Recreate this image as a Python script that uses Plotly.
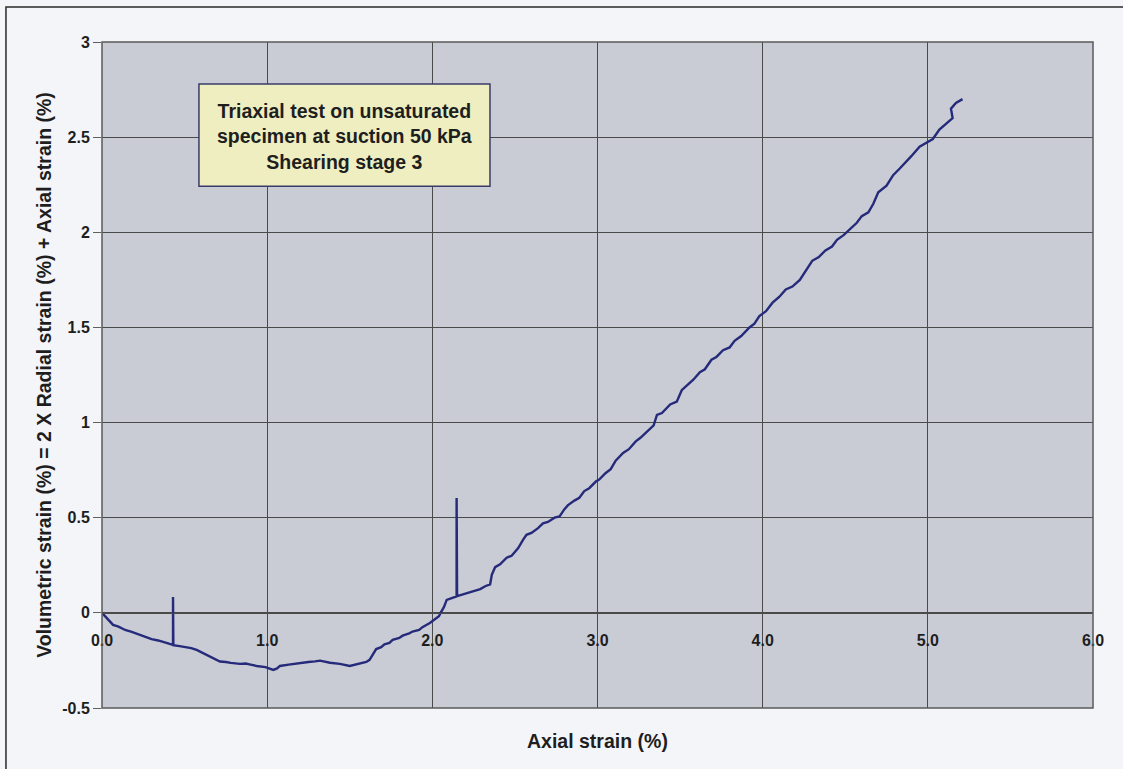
import plotly.graph_objects as go

# Axial strain (%) readings
axial = [
    0.000, 0.030, 0.067, 0.100, 0.140, 0.180, 0.230, 0.270, 0.300, 0.340, 0.370,
    0.400, 0.430, 0.430, 0.432, 0.470, 0.500, 0.540, 0.573, 0.610, 0.640, 0.680,
    0.714, 0.750, 0.780, 0.835, 0.870, 0.900, 0.936, 0.990, 1.037, 1.060, 1.077,
    1.130, 1.178, 1.220, 1.250, 1.290, 1.320, 1.380, 1.440, 1.500, 1.560, 1.600,
    1.620, 1.640, 1.660, 1.690, 1.710, 1.740, 1.760, 1.800, 1.820, 1.860, 1.880,
    1.920, 1.940, 1.985, 2.020, 2.040, 2.050, 2.070, 2.087, 2.120, 2.147, 2.147,
    2.150, 2.190, 2.220, 2.250, 2.290, 2.320, 2.350, 2.360, 2.380, 2.410, 2.450,
    2.480, 2.520, 2.550, 2.570, 2.600, 2.640, 2.670, 2.700, 2.740, 2.770, 2.800,
    2.820, 2.860, 2.890, 2.920, 2.950, 2.990, 3.010, 3.050, 3.080, 3.110, 3.155,
    3.190, 3.230, 3.260, 3.300, 3.340, 3.360, 3.390, 3.440, 3.480, 3.510, 3.550,
    3.580, 3.620, 3.650, 3.690, 3.720, 3.760, 3.800, 3.830, 3.870, 3.920, 3.950,
    3.980, 4.020, 4.060, 4.100, 4.140, 4.180, 4.225, 4.260, 4.300, 4.340, 4.380,
    4.420, 4.450, 4.490, 4.530, 4.570, 4.600, 4.640, 4.670, 4.700, 4.750, 4.790,
    4.830, 4.870, 4.900, 4.950, 4.990, 5.030, 5.070, 5.110, 5.150, 5.140, 5.170,
    5.210,
]

# Volumetric strain (%) = 2 x radial strain + axial strain
volumetric = [
    0.000, -0.030, -0.063, -0.072, -0.090, -0.100, -0.116, -0.125, -0.138, -0.145, -0.152,
    -0.158, -0.168, 0.083, -0.170, -0.175, -0.180, -0.185, -0.195, -0.210, -0.225, -0.240,
    -0.256, -0.258, -0.263, -0.268, -0.266, -0.272, -0.279, -0.285, -0.300, -0.292, -0.279,
    -0.272, -0.265, -0.262, -0.258, -0.255, -0.251, -0.262, -0.268, -0.279, -0.265, -0.258,
    -0.247, -0.215, -0.190, -0.180, -0.165, -0.158, -0.142, -0.132, -0.120, -0.108, -0.098,
    -0.090, -0.075, -0.053, -0.030, -0.018, 0.000, 0.030, 0.068, 0.078, 0.086, 0.604,
    0.088, 0.098, 0.105, 0.112, 0.125, 0.140, 0.150, 0.200, 0.240, 0.255, 0.290,
    0.300, 0.340, 0.385, 0.410, 0.420, 0.445, 0.470, 0.478, 0.500, 0.507, 0.545,
    0.565, 0.590, 0.605, 0.640, 0.655, 0.690, 0.700, 0.735, 0.755, 0.800, 0.840,
    0.860, 0.900, 0.920, 0.955, 0.985, 1.040, 1.050, 1.095, 1.110, 1.170, 1.200,
    1.225, 1.265, 1.280, 1.330, 1.345, 1.380, 1.395, 1.430, 1.455, 1.500, 1.520,
    1.560, 1.585, 1.630, 1.660, 1.700, 1.715, 1.750, 1.800, 1.850, 1.870, 1.905,
    1.925, 1.960, 1.985, 2.020, 2.050, 2.085, 2.105, 2.150, 2.210, 2.245, 2.300,
    2.335, 2.370, 2.400, 2.450, 2.470, 2.490, 2.540, 2.570, 2.600, 2.650, 2.680,
    2.700,
]

x_ticks = [0, 1, 2, 3, 4, 5, 6]
x_tick_labels = ["0.0", "1.0", "2.0", "3.0", "4.0", "5.0", "6.0"]
y_ticks = [-0.5, 0, 0.5, 1, 1.5, 2, 2.5, 3]
y_tick_labels = ["-0.5", "0", "0.5", "1", "1.5", "2", "2.5", "3"]

box_lines = [
    "Triaxial test on unsaturated",
    "specimen at suction 50 kPa",
    "Shearing stage 3",
]

font_family = "Arial, Liberation Sans, sans-serif"
text_color = "#1e1e1e"
grid_color = "#4a4a4a"
title_size = 19.5
tick_size = 16


def bold(s):
    return "<b>" + s + "</b>"


fig = go.Figure()
fig.add_trace(go.Scatter(
    x=axial, y=volumetric, mode="lines",
    line=dict(color="#252a7a", width=2.4),
    showlegend=False,
))

# x axis drawn along the zero line of the y scale
y_min, y_max = -0.5, 3.0
zero_pos = (0 - y_min) / (y_max - y_min)

fig.update_layout(
    width=1123, height=769,
    margin=dict(l=102, r=30, t=42, b=61),
    paper_bgcolor="#f4f5f9",
    plot_bgcolor="#c9ccd5",
    font=dict(family=font_family, color=text_color),
    xaxis=dict(
        range=[0, 6], tickvals=x_ticks, ticktext=[bold(t) for t in x_tick_labels],
        showgrid=True, gridcolor=grid_color, gridwidth=1,
        zeroline=False, showline=True, linecolor=grid_color, linewidth=1,
        anchor="free", position=zero_pos,
        ticks="outside", ticklen=13, tickcolor="rgba(0,0,0,0)",
        tickfont=dict(size=tick_size, family=font_family, color=text_color),
        fixedrange=True,
    ),
    yaxis=dict(
        range=[y_min, y_max], tickvals=y_ticks, ticktext=[bold(t) for t in y_tick_labels],
        showgrid=True, gridcolor=grid_color, gridwidth=1,
        zeroline=False, showline=False,
        ticks="outside", ticklen=8, tickcolor="#606060",
        tickfont=dict(size=tick_size, family=font_family, color=text_color),
        title=dict(
            text=bold("Volumetric strain (%) = 2 X Radial strain (%) + Axial strain (%)"),
            font=dict(size=title_size, family=font_family, color=text_color),
            standoff=5,
        ),
        fixedrange=True,
    ),
)

# Plot area border
fig.add_shape(type="rect", xref="x domain", yref="y domain", x0=0, x1=1, y0=0, y1=1,
              line=dict(color="#5a5a5a", width=1.5), fillcolor="rgba(0,0,0,0)", layer="above")

# Outer chart frame
fig.add_shape(type="rect", xref="paper", yref="paper",
              x0=-0.0969, x1=1.0374, y0=-0.11, y1=1.0526,
              line=dict(color="#2a2a2a", width=1.5), fillcolor="rgba(0,0,0,0)", layer="below")

# x axis title
fig.add_annotation(
    text=bold("Axial strain (%)"), xref="paper", yref="paper", x=0.5, y=-0.0495,
    xanchor="center", yanchor="middle", showarrow=False,
    font=dict(size=title_size, family=font_family, color=text_color),
)

# Caption box
fig.add_shape(type="rect", xref="x", yref="y", x0=0.587, x1=2.349, y0=2.242, y1=2.779,
              line=dict(color="#3a3a6a", width=1.5), fillcolor="#eeeec0", layer="above")
fig.add_annotation(
    text="<br>".join(bold(s) for s in box_lines), xref="x", yref="y", x=1.468, y=2.505,
    xanchor="center", yanchor="middle", align="center", showarrow=False,
    font=dict(size=title_size, family=font_family, color=text_color),
)

fig.write_html("out.html")
